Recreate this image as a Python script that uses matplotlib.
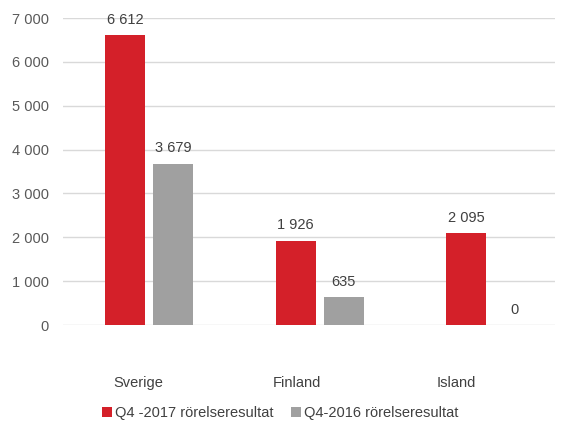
import numpy as np
import matplotlib
matplotlib.use("Agg")
from matplotlib import pyplot as plt

plt.rcParams['font.family'] = ['Liberation Sans', 'DejaVu Sans']

categories = ['Sverige', 'Finland', 'Island']
q4_2017 = [6612, 1926, 2095]
q4_2016 = [3679, 635, 0]
labels = ['Q4 -2017 rörelseresultat', 'Q4-2016 rörelseresultat']
colors = ['#D42029', '#A0A0A0']
yticks = np.arange(0, 7001, 1000)


def fmt(v):
    return format(int(v), ',').replace(',', ' ')


fig = plt.figure(figsize=(5.62, 4.21), dpi=100)
ax = fig.add_axes([0.112, 0.228, 0.876, 0.729])

x = np.arange(len(categories))
width = 0.235
off = 0.141
series = [q4_2017, q4_2016]
for k, (vals, lab, c) in enumerate(zip(series, labels, colors)):
    xs = x + (-off if k == 0 else off)
    ax.bar(xs, vals, width=width, color=c, label=lab, zorder=3)
    for xi, v in zip(xs, vals):
        ax.annotate(fmt(v), xy=(xi, v), xytext=(0, 6), textcoords='offset points',
                    ha='center', va='bottom', fontsize=10.5, color='#404040',
                    annotation_clip=False)

ax.set_ylim(0, 7000)
ax.set_xlim(-0.504, 2.38)
ax.set_yticks(yticks)
ax.set_yticklabels([fmt(v) for v in yticks])
# category labels sit a little left of the bar groups, as in the original
ax.set_xticks(x * 0.933 - 0.065)
ax.set_xticklabels(categories)
ax.tick_params(axis='y', length=0, pad=10, labelsize=10.5, labelcolor='#595959')
ax.tick_params(axis='x', length=0, pad=37, labelsize=10.5, labelcolor='#404040')
ax.grid(axis='y', color='#D9D9D9', linewidth=1, zorder=0)
for s in ax.spines.values():
    s.set_visible(False)

fig.legend(loc='center', bbox_to_anchor=(0.498, 0.018), ncol=2, frameon=False,
           fontsize=10.5, handlelength=0.7, handleheight=0.7, handletextpad=0.2,
           columnspacing=1.2, labelcolor='#404040')

fig.savefig('out.png', dpi=100)
